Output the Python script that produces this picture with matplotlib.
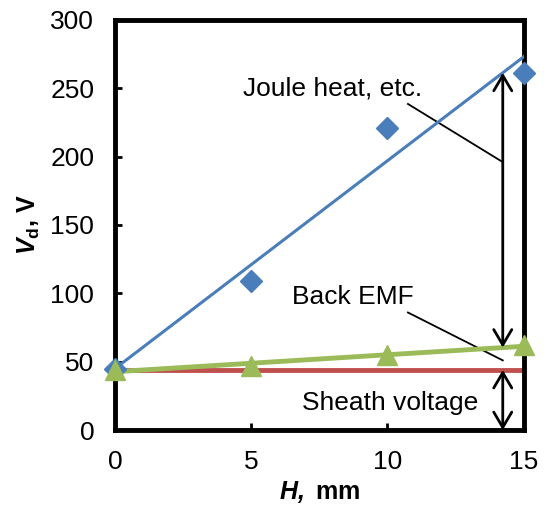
import matplotlib.pyplot as plt
import numpy as np

plt.rcParams['font.family'] = ['Liberation Sans', 'DejaVu Sans']
plt.rcParams['mathtext.fontset'] = 'custom'
plt.rcParams['mathtext.rm'] = 'Liberation Sans'
plt.rcParams['mathtext.it'] = 'Liberation Sans:italic'
plt.rcParams['mathtext.bf'] = 'Liberation Sans:bold'
plt.rcParams['mathtext.bfit'] = 'Liberation Sans:italic:bold'

# Data
H = [0, 5, 10, 15]
vd_total = [45, 109, 221, 261]      # blue diamonds
vd_emf = [44, 47, 55, 62]           # green triangles
sheath = 44                         # red line
x_ticks = [0, 5, 10, 15]
y_ticks = [0, 50, 100, 150, 200, 250, 300]

fig = plt.figure(figsize=(5.45, 5.09), dpi=100)
ax = fig.add_axes([0.211, 0.155, 0.75, 0.806])

xs = np.array([0, 15])
# linear trendlines
p_total = np.polyfit(H, vd_total, 1)
p_emf = np.polyfit(H, vd_emf, 1)

ax.plot(xs, [sheath, sheath], color='#c0504d', lw=3.5, zorder=2)
ax.plot(xs, np.polyval(p_total, xs), color='#4a7ebb', lw=2.2, zorder=3)
ax.plot(xs, np.polyval(p_emf, xs), color='#9bbb59', lw=3.5, zorder=3)
ax.plot(H, vd_total, 'D', color='#4a7ebb', ms=11.5, zorder=4, clip_on=False)
ax.plot(H, vd_emf, '^', color='#9bbb59', ms=14, zorder=4, clip_on=False)

# arrows
xa = 14.23
y_top = np.polyval(p_total, xa)
y_mid = np.polyval(p_emf, xa)
arr = dict(arrowstyle='<->,head_length=1.1,head_width=0.65', color='black', lw=2,
           shrinkA=0, shrinkB=0)
ax.annotate('', xy=(xa, y_top), xytext=(xa, y_mid), arrowprops=arr)
ax.annotate('', xy=(xa, sheath), xytext=(xa, 0), arrowprops=arr)

# labels with leader lines
ax.text(4.7, 250, 'Joule heat, etc.', fontsize=19, va='center')
ax.plot([10.75, xa], [238.5, 196], color='black', lw=1.3)
ax.text(6.5, 97, 'Back EMF', fontsize=19, va='center')
ax.plot([10.75, xa], [86, 51], color='black', lw=1.3)
ax.text(6.86, 20, 'Sheath voltage', fontsize=19, va='center')

ax.set_xlim(0, 15)
ax.set_ylim(0, 300)
ax.set_xticks(x_ticks)
ax.set_yticks(y_ticks)
ax.tick_params(direction='in', length=5, width=2, labelsize=19)
ax.tick_params(axis='y', pad=15)
ax.tick_params(axis='x', pad=14)
for s in ax.spines.values():
    s.set_linewidth(3.5)

ax.set_xlabel(r'$\mathbfit{H,}$ mm', fontsize=18, fontweight='bold', labelpad=4)
ax.set_ylabel(r'$\mathbfit{V}_\mathbf{d}$, V', fontsize=18, fontweight='bold', labelpad=6)

fig.savefig('out.png', dpi=100)
